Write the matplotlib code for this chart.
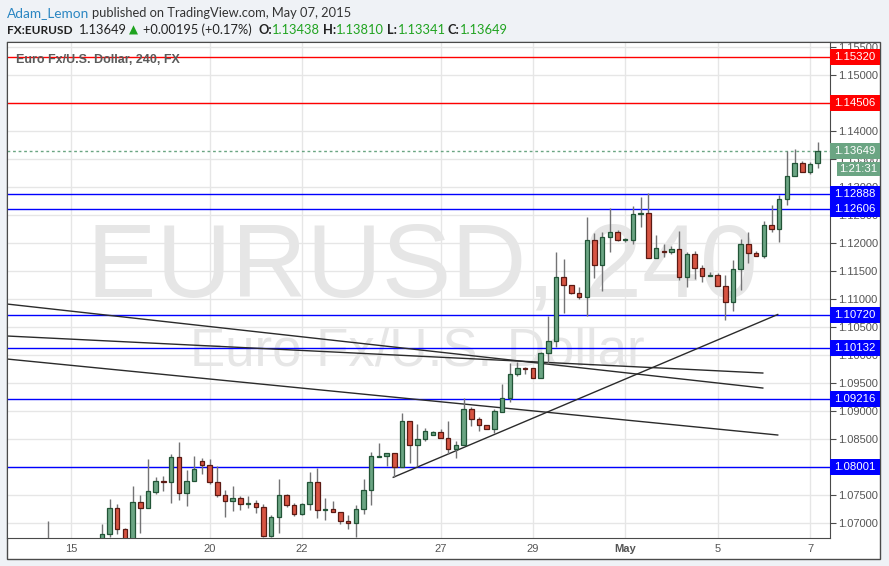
"""Recreates a TradingView EURUSD 240 snapshot (published May 07, 2015) with matplotlib"""

import numpy as np
import pandas as pd
import matplotlib

matplotlib.use("Agg")
import matplotlib.pyplot as plt
import matplotlib.transforms as mtransforms
from matplotlib.patches import Rectangle

# 4h candles, first one starts 2015-04-14 12:00 (bars 0-6 sit below the visible range)
first_bar = "2015-04-14 12:00"
opens = [
    1.0662, 1.0658, 1.0650, 1.0645, 1.0640, 1.0630, 1.0615, 1.0655, 1.06805, 1.07269,
    1.06894, 1.0668, 1.07376, 1.07269, 1.07566, 1.07751, 1.07733, 1.08180, 1.07537, 1.07751,
    1.08109, 1.08037, 1.07733, 1.07501, 1.07394, 1.07448, 1.07341, 1.07359, 1.07287, 1.06780,
    1.07109, 1.07501, 1.07323, 1.07162, 1.07341, 1.07733, 1.07234, 1.07251, 1.07198, 1.07037,
    1.07001, 1.07251, 1.07591, 1.08190, 1.08198, 1.08251, 1.08001, 1.08823, 1.08394, 1.08501,
    1.08573, 1.08626, 1.08519, 1.08323, 1.08394, 1.09037, 1.08859, 1.08751, 1.08680, 1.08994,
    1.09234, 1.09662, 1.09769, 1.09769, 1.09591, 1.10037, 1.10251, 1.11405, 1.11251, 1.11109,
    1.11037, 1.12055, 1.11609, 1.12109, 1.12198, 1.12055, 1.12062, 1.12519, 1.12537, 1.11734,
    1.11859, 1.11841, 1.11894, 1.11394, 1.11805, 1.11555, 1.11412, 1.11430, 1.11234, 1.10948,
    1.11537, 1.11984, 1.11823, 1.11769, 1.12323, 1.12251, 1.12787, 1.13198, 1.13430, 1.13269,
    1.13438,
]
highs = [
    1.07043, 1.0668, 1.0662, 1.0660, 1.0655, 1.0650, 1.0662, 1.06989, 1.07435, 1.07346,
    1.06912, 1.07667, 1.07507, 1.08150, 1.07828, 1.07846, 1.08244, 1.08453, 1.07953, 1.08203,
    1.08167, 1.08150, 1.08025, 1.07596, 1.07662, 1.07484, 1.07489, 1.07417, 1.07346, 1.07150,
    1.07792, 1.07530, 1.07359, 1.07359, 1.07912, 1.07994, 1.07448, 1.07394, 1.07198, 1.07144,
    1.07328, 1.07792, 1.08275, 1.08430, 1.08251, 1.08251, 1.08966, 1.08823, 1.08769, 1.08709,
    1.08644, 1.08680, 1.08828, 1.08466, 1.09234, 1.09073, 1.08894, 1.08751, 1.09037, 1.09484,
    1.09859, 1.09876, 1.09798, 1.09769, 1.10069, 1.10709, 1.11846, 1.11721, 1.11251, 1.11216,
    1.12466, 1.12180, 1.12198, 1.12626, 1.12234, 1.12091, 1.12667, 1.12828, 1.12894, 1.12150,
    1.11989, 1.11948, 1.12216, 1.11841, 1.11859, 1.11609, 1.11484, 1.11466, 1.11430, 1.11698,
    1.12073, 1.12198, 1.11859, 1.12394, 1.12685, 1.12859, 1.13644, 1.13680, 1.13466, 1.13448,
    1.13810,
]
lows = [
    1.0650, 1.0640, 1.0635, 1.0630, 1.0620, 1.0600, 1.0590, 1.0648, 1.06762, 1.06816,
    1.0660, 1.0663, 1.06834, 1.07269, 1.07520, 1.07584, 1.07359, 1.07412, 1.07316, 1.07751,
    1.07876, 1.07698, 1.07466, 1.07109, 1.07226, 1.07234, 1.07269, 1.07180, 1.06762, 1.06762,
    1.06823, 1.07298, 1.07137, 1.07145, 1.07239, 1.07101, 1.07066, 1.07198, 1.06994, 1.06894,
    1.06762, 1.07162, 1.07323, 1.08190, 1.08030, 1.07823, 1.08001, 1.08084, 1.08030, 1.08476,
    1.08573, 1.08519, 1.08234, 1.08173, 1.08394, 1.08744, 1.08655, 1.08680, 1.08609, 1.08984,
    1.09176, 1.09626, 1.09662, 1.09591, 1.09591, 1.09859, 1.10144, 1.10751, 1.11091, 1.11001,
    1.10698, 1.11376, 1.11144, 1.11841, 1.12037, 1.12020, 1.11984, 1.12298, 1.11734, 1.11734,
    1.11751, 1.11805, 1.11341, 1.11216, 1.11359, 1.11305, 1.11412, 1.11234, 1.10632, 1.10798,
    1.11162, 1.11644, 1.11769, 1.11734, 1.12198, 1.12019, 1.12680, 1.13198, 1.13269, 1.13234,
    1.13341,
]
closes = [
    1.0658, 1.0650, 1.0645, 1.0640, 1.0630, 1.0615, 1.0655, 1.06810, 1.07275, 1.06894,
    1.0668, 1.07376, 1.07269, 1.07573, 1.07751, 1.07733, 1.08180, 1.07537, 1.07751, 1.07966,
    1.08037, 1.07733, 1.07501, 1.07394, 1.07448, 1.07341, 1.07359, 1.07287, 1.06780, 1.07109,
    1.07501, 1.07323, 1.07162, 1.07341, 1.07733, 1.07234, 1.07251, 1.07198, 1.07037, 1.07001,
    1.07251, 1.07591, 1.08198, 1.08198, 1.08251, 1.08001, 1.08823, 1.08394, 1.08501, 1.08644,
    1.08626, 1.08519, 1.08323, 1.08394, 1.09037, 1.08859, 1.08751, 1.08680, 1.09001, 1.09234,
    1.09662, 1.09769, 1.09757, 1.09591, 1.10037, 1.10251, 1.11405, 1.11251, 1.11109, 1.11037,
    1.12055, 1.11609, 1.12109, 1.12198, 1.12055, 1.12062, 1.12519, 1.12537, 1.11734, 1.11912,
    1.11841, 1.11894, 1.11394, 1.11805, 1.11555, 1.11412, 1.11430, 1.11234, 1.10948, 1.11537,
    1.11984, 1.11823, 1.11769, 1.12323, 1.12251, 1.12787, 1.13198, 1.13430, 1.13269, 1.13412,
    1.13649,
]

tick_days = ["2015-04-15", "2015-04-20", "2015-04-22", "2015-04-27",
             "2015-04-29", "2015-05-01", "2015-05-05", "2015-05-07"]
tick_labels = ["15", "20", "22", "27", "29", "May", "5", "7"]

level_prices = [1.15320, 1.14506, 1.12888, 1.12606, 1.10720, 1.10132, 1.09216, 1.08001]

# trend lines as (bar index, price) end points
trend_start_bar = [-5.32, -5.32, -5.32, 44.86]
trend_start_price = [1.10917, 1.10346, 1.09935, 1.07823]
trend_end_bar = [92.87, 92.87, 94.81, 94.81]
trend_end_price = [1.09417, 1.09685, 1.08578, 1.10730]

symbol = "FX:EURUSD"
author = "Adam_Lemon"
published = "published on TradingView.com, May 07, 2015"
description = "Euro Fx/U.S. Dollar, 240, FX"
change = 0.00195
change_pct = 0.17
countdown = "1:21:31"

W, H = 889, 566
UP, DOWN = "#6ba583", "#d75442"
UP_EDGE, DOWN_EDGE = "#225437", "#5b1a13"


def fx(x: float) -> float:
    """Pixel x -> figure fraction"""
    return x / W


def fy(y: float) -> float:
    """Pixel y (from top) -> figure fraction"""
    return 1 - y / H


def bar_times(n: int) -> list:
    """4h bar open times on weekdays, starting at first_bar"""
    days = pd.bdate_range("2015-04-14", periods=30)
    times = [d + pd.Timedelta(hours=h) for d in days for h in range(0, 24, 4)]
    times = [t for t in times if t >= pd.Timestamp(first_bar)]
    return times[:n]


def draw_candles(ax, o, h, l, c) -> None:
    """Wicks + bodies, coloured by direction"""
    x = np.arange(len(o))
    up = c >= o
    ax.vlines(x, l, h, color="#737375", lw=1, zorder=3)
    bottom = np.minimum(o, c)
    height = np.maximum(np.abs(c - o), 0.00018)
    ax.bar(x[up], height[up], 0.58, bottom[up], color=UP, edgecolor=UP_EDGE, lw=0.9, zorder=4)
    ax.bar(x[~up], height[~up], 0.58, bottom[~up], color=DOWN, edgecolor=DOWN_EDGE, lw=0.9, zorder=4)


def price_box(ax, price, text, color, x0=1.0, px_h=16) -> None:
    """Coloured label on the price scale"""
    trans = mtransforms.blended_transform_factory(ax.transAxes, ax.transData)
    y0, y1 = ax.get_ylim()
    half = (y1 - y0) / 496 * px_h / 2
    x1 = (880 - 7) / 823
    ax.add_patch(Rectangle((x0, price - half), x1 - x0, 2 * half, transform=trans,
                           facecolor=color, edgecolor="none", clip_on=False, zorder=10))
    ax.text((x0 + x1) / 2, price, text, transform=trans, ha="center", va="center",
            color="white", fontsize=8.2, family="Liberation Sans", clip_on=False, zorder=11)


o, h, l, c = map(np.array, (opens, highs, lows, closes))
last = c[-1]

fig = plt.figure(figsize=(W / 100, H / 100), dpi=100, facecolor="#eff2f6")
panel = Rectangle((fx(7), fy(559)), fx(880) - fx(7), fy(42) - fy(559),
                  transform=fig.transFigure, facecolor="white",
                  edgecolor="#4a4a4a", lw=1, zorder=-5)
fig.patches.append(panel)

ax = fig.add_axes([fx(7), fy(538), fx(830) - fx(7), fy(42) - fy(538)])
ax.set_facecolor("white")
ax.set_xlim(-5.32, 101.6)
ax.set_ylim(1.06739, 1.15596)

# watermark
ax.text(0.505, 0.4859, "EURUSD, 240", transform=ax.transAxes, ha="center", va="baseline",
        fontsize=75, color="#e6e6e6", family="Liberation Sans", zorder=1)
ax.text(0.2224, 0.3468, "Euro Fx/U.S. Dollar", transform=ax.transAxes, ha="left",
        va="baseline", fontsize=38, color="#e6e6e6", family="Liberation Sans", zorder=1)
ax.text(0.0109, 0.9637, description, transform=ax.transAxes, ha="left", va="center",
        fontsize=9, fontweight="bold", color="#5a5a5a", family="Liberation Sans", zorder=12)

# grid, ticks
times = bar_times(len(o))
tick_pos = [times.index(pd.Timestamp(d)) for d in tick_days]
ax.set_xticks(tick_pos)
ax.set_xticklabels(tick_labels, family="Liberation Sans", fontsize=8, color="#555555")
for lab, txt in zip(ax.get_xticklabels(), tick_labels):
    if not txt.isdigit():
        lab.set_fontweight("bold")
yticks = np.arange(1.07, 1.1551, 0.005)
ax.set_yticks(yticks)
ax.set_yticklabels([f"{v:.5f}" for v in yticks], family="Liberation Sans",
                   fontsize=8, color="#555555")
ax.yaxis.tick_right()
ax.tick_params(axis="y", length=4, pad=2, color="#4a4a4a")
ax.tick_params(axis="x", length=0, pad=4)
ax.grid(True, color="#e6e6e6", lw=1)
ax.set_axisbelow(True)
for sp in ax.spines.values():
    sp.set_color("#4a4a4a")

# levels, trend lines, candles
for p in level_prices:
    ax.axhline(p, color="#ff0000" if p > last else "#0000ff", lw=1, zorder=2)
for xs, ys, xe, ye in zip(trend_start_bar, trend_start_price, trend_end_bar, trend_end_price):
    ax.plot([xs, xe], [ys, ye], color="#2b2b2b", lw=1, zorder=2)
ax.axhline(last, color=UP, lw=1, ls=(0, (2, 2)), zorder=2)
draw_candles(ax, o, h, l, c)

for p in level_prices:
    price_box(ax, p, f"{p:.5f}", "#ff0000" if p > last else "#0000ff")
price_box(ax, last, f"{last:.5f}", UP)
price_box(ax, last - 17.5 * 0.00017857, countdown, UP, x0=(836.7 - 7) / 823, px_h=14)

# header
base = dict(fontsize=9.3, family="Lato", va="baseline")
fig.text(fx(7), fy(16.7), author, color="#2a86c2", fontsize=9.8, family="Lato", va="baseline")
fig.text(fx(92), fy(16.7), published, color="#333333", **base)
row = fy(34)
fig.text(fx(7), row, symbol, color="#222222", fontweight="bold", fontsize=8.6,
         family="Lato", va="baseline")
fig.text(fx(79), row, f"{last:.5f}", color="#222222", **base)
fig.text(fx(129), row, "\u25b2", color="#1fa31f", fontsize=8.5, family="DejaVu Sans", va="baseline")
fig.text(fx(143), row, f"+{change:.5f} (+{change_pct:.2f}%)", color="#222222", **base)
ohlc_x = [(258.7, 271.7), (322.7, 336), (387.3, 398.3), (447.3, 460.3)]
for (xl, xv), name, val in zip(ohlc_x, "OHLC", (o[-1], h[-1], l[-1], c[-1])):
    fig.text(fx(xl), row, name + ":", color="#222222", fontweight="bold", **base)
    fig.text(fx(xv), row, f"{val:.5f}", color="#1fa31f", **base)

fig.savefig("out.png", dpi=100, facecolor=fig.get_facecolor())
